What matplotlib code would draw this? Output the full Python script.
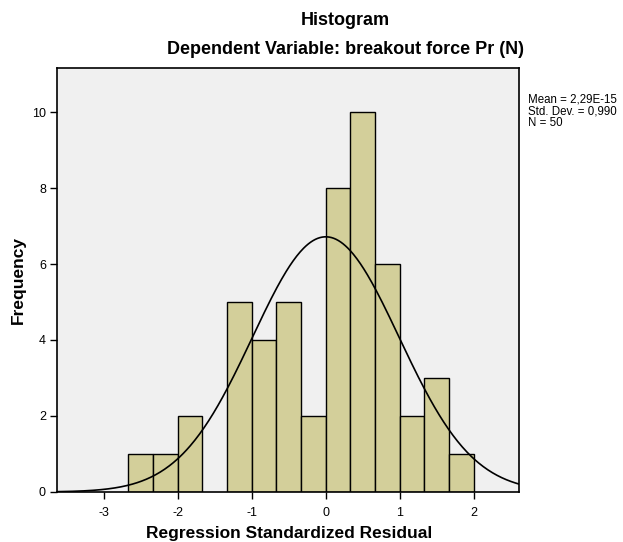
import numpy as np
import matplotlib
matplotlib.use("Agg")
import matplotlib.pyplot as plt

# histogram bins (regression standardized residual), width 1/3
bin_edges = np.arange(-8, 7) / 3.0
counts = [1, 1, 2, 0, 5, 4, 5, 2, 8, 10, 6, 2, 3, 1]
mean_val = 2.29e-15
std_val = 0.990
n_obs = 50
x_ticks = [-3, -2, -1, 0, 1, 2]
y_ticks = [0, 2, 4, 6, 8, 10]

plt.rcParams["font.family"] = ["Liberation Sans", "DejaVu Sans"]

fig = plt.figure(figsize=(6.23, 5.42), dpi=100)
ax = fig.add_axes([0.0915, 0.0923, 0.7416, 0.7823])
ax.set_facecolor("#F0F0F0")

lefts = bin_edges[:-1]
widths = np.diff(bin_edges)
for left, w, c in zip(lefts, widths, counts):
    if c > 0:
        ax.bar(left, c, width=w, align="edge", color="#D3CF9A",
               edgecolor="black", linewidth=1.0, zorder=2)

# fitted normal curve
xs = np.linspace(-3.63, 2.61, 400)
bw = widths[0]
pdf = np.exp(-0.5 * ((xs - mean_val) / std_val) ** 2) / (std_val * np.sqrt(2 * np.pi))
ax.plot(xs, n_obs * bw * pdf, color="black", linewidth=1.2, zorder=3)

ax.set_xlim(-3.63, 2.61)
ax.set_ylim(0, 11.16)
ax.set_xticks(x_ticks)
ax.set_xticklabels([str(t) for t in x_ticks])
ax.set_yticks(y_ticks)
ax.tick_params(direction="out", length=5, width=1, labelsize=9, pad=3)
ax.tick_params(axis="x", pad=6)
for s in ax.spines.values():
    s.set_linewidth(1.2)

ax.set_xlabel("Regression Standardized Residual", fontsize=12.5,
              fontweight="bold", va="center")
ax.xaxis.set_label_coords(0.502, -0.097)
ax.set_ylabel("Frequency", fontsize=12.5, fontweight="bold", va="center")
ax.yaxis.set_label_coords(-0.084, 0.5)

fig.text(0.554, 0.963, "Histogram", ha="center", va="center",
         fontsize=13, fontweight="bold")
fig.text(0.554, 0.908, "Dependent Variable: breakout force Pr (N)",
         ha="center", va="center", fontsize=13, fontweight="bold")

stats_text = "Mean = 2,29E-15\nStd. Dev. = 0,990\nN = 50"
fig.text(0.8475, 0.828, stats_text, ha="left", va="top", fontsize=8.3,
         linespacing=1.0)

fig.savefig("out.png", dpi=100)
